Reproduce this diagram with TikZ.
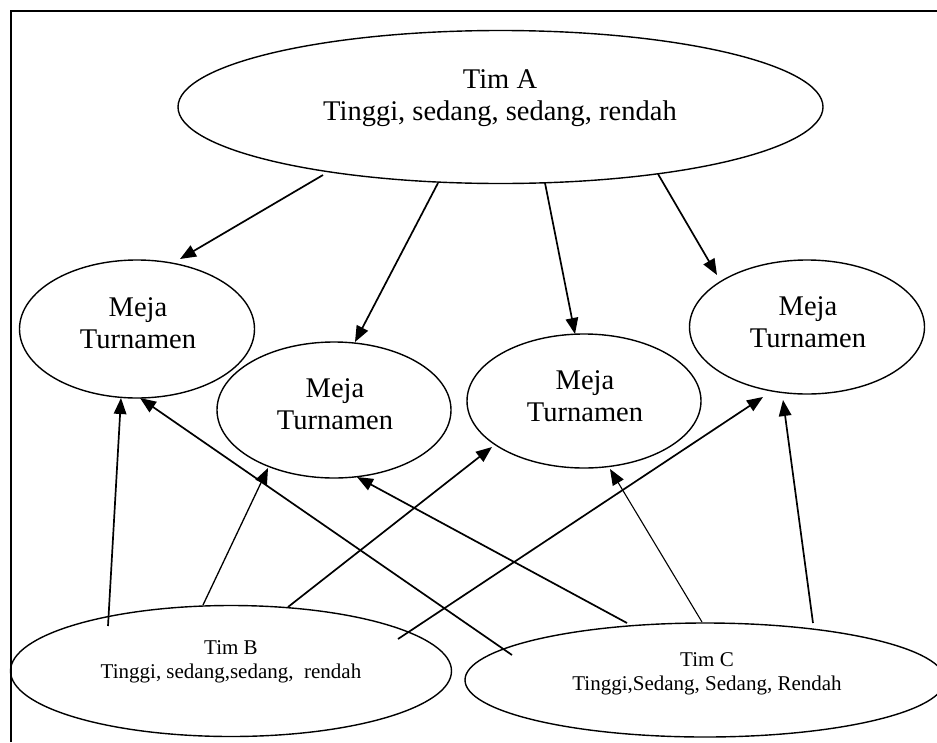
\documentclass[tikz,border=0pt]{standalone}
\usepackage{fontspec}
\setmainfont{Liberation Serif}
\usetikzlibrary{shapes.geometric,arrows.meta}
\begin{document}
\begin{tikzpicture}[x=1pt,y=-1pt,
  oval/.style={ellipse,draw,line width=1.4pt,inner sep=0pt},
  bigtxt/.style={align=center,inner sep=0pt,font=\fontsize{28.5}{32.5}\selectfont},
  smalltxt/.style={align=center,inner sep=0pt,font=\fontsize{21}{24.5}\selectfont},
  conn/.style={line width=1.7pt,-{Triangle[length=16pt,width=12.5pt]}}
]
\useasboundingbox (0,0) rectangle (937,742);
\draw[line width=1.6pt] (11,742) -- (11,11) -- (937,11);

% ellipses
\node[oval,minimum width=645pt,minimum height=153pt] (A) at (500.5,107) {};
\node[oval,minimum width=235pt,minimum height=138pt] (M1) at (137,329) {};
\node[oval,minimum width=234pt,minimum height=136pt] (M2) at (334,410) {};
\node[oval,minimum width=234pt,minimum height=134pt] (M3) at (584,401) {};
\node[oval,minimum width=235pt,minimum height=134pt] (M4) at (807,327) {};
\node[oval,minimum width=441pt,minimum height=131pt] (B) at (231,671) {};
\node[oval,minimum width=480pt,minimum height=114pt] (C) at (705,680) {};

% texts
\node[bigtxt] (tA) at (500,98) {Tim A\\Tinggi, sedang, sedang, rendah};
\node[bigtxt] (t1) at (138,323) {Meja\\Turnamen};
\node[bigtxt] (t2) at (335,404) {Meja\\Turnamen};
\node[bigtxt] (t3) at (585,396) {Meja\\Turnamen};
\node[bigtxt] (t4) at (808,322) {Meja\\Turnamen};
\node[smalltxt] (tB) at (231,662) {Tim B\\Tinggi, sedang,sedang,\ \ rendah};
\node[smalltxt] (tC) at (707,674) {Tim C\\Tinggi,Sedang, Sedang, Rendah};

% connectors from Tim A
\draw[conn] ([shift={(-177.5,68)}]A.center) -- ([shift={(43,-70)}]M1.center);
\draw[conn] ([shift={(-62.5,76)}]A.center) -- ([shift={(21,-68)}]M2.center);
\draw[conn] ([shift={(44.5,76)}]A.center) -- ([shift={(-9,-67)}]M3.center);
\draw[conn] ([shift={(157.5,67)}]A.center) -- ([shift={(-90,-52)}]M4.center);
% connectors from Tim B
\draw[conn] ([shift={(-123,-45)}]B.center) -- ([shift={(-16,69)}]M1.center);
\draw[conn,line width=1.3pt] ([shift={(-28,-66)}]B.center) -- ([shift={(-66,58)}]M2.center);
\draw[conn] ([shift={(57,-64)}]B.center) -- ([shift={(-92,46)}]M3.center);
\draw[conn] ([shift={(167,-32)}]B.center) -- ([shift={(-44,70)}]M4.center);
% connectors from Tim C
\draw[conn] ([shift={(-193,-25)}]C.center) -- ([shift={(3,69)}]M1.center);
\draw[conn] ([shift={(-78,-57)}]C.center) -- ([shift={(23,67)}]M2.center);
\draw[conn,line width=1.1pt] ([shift={(-3,-58)}]C.center) -- ([shift={(26,68)}]M3.center);
\draw[conn] ([shift={(108,-57)}]C.center) -- ([shift={(-24,73)}]M4.center);
\end{tikzpicture}
\end{document}
